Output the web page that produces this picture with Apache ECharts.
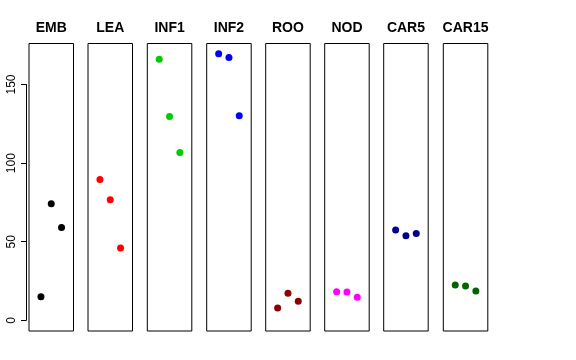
<!DOCTYPE html>
<html><head><meta charset="utf-8">
<script src="https://cdn.jsdelivr.net/npm/echarts@6/dist/echarts.min.js"></script>
<style>html,body{margin:0;padding:0;background:#fff}#c{width:576px;height:360px}</style>
</head><body><div id="c"></div>
<script>
const categories = ['EMB','LEA','INF1','INF2','ROO','NOD','CAR5','CAR15'];
const EMB   = [15, 74.1, 59.1];
const LEA   = [89.6, 76.7, 46.0];
const INF1  = [166.1, 129.7, 106.8];
const INF2  = [169.5, 167.2, 130.1];
const ROO   = [7.8, 17.2, 12.1];
const NOD   = [18.2, 18.0, 14.6];
const CAR5  = [57.4, 53.8, 55.3];
const CAR15 = [22.4, 21.8, 18.6];
const seriesValues = [EMB, LEA, INF1, INF2, ROO, NOD, CAR5, CAR15];
const colors = ['#000000','#FF0000','#00CD00','#0000FF','#8B0000','#FF00FF','#00008B','#006400'];
const yTicks = [0, 50, 100, 150];

const chart = echarts.init(document.getElementById('c'), null, {renderer:'canvas'});
const yMin = -6.8, yMax = 176.1;
const pTop = 43.5, pH = 287.5, pW = 44.5;
const lefts = [29, 88, 147.3, 206.7, 265.7, 324.7, 383.7, 443.3];
const grids = [], xAxes = [], yAxes = [], series = [], titles = [];
categories.forEach((name, i) => {
  grids.push({left: lefts[i], top: pTop, width: pW, height: pH, show: true, borderColor: '#000', borderWidth: 1, backgroundColor: 'transparent'});
  xAxes.push({type:'value', gridIndex:i, min:-0.16, max:4.16, show:false});
  yAxes.push({type:'value', gridIndex:i, min:yMin, max:yMax, show:false});
  series.push({type:'scatter', xAxisIndex:i, yAxisIndex:i, symbol:'circle', symbolSize:7,
    itemStyle:{color:colors[i], opacity:1}, data: seriesValues[i].map((v,j)=>[j+1, v])});
  titles.push({text:name, left: lefts[i] + pW/2, top: 21, textAlign:'center', padding:0,
    textStyle:{fontFamily:'Liberation Sans, Arial, sans-serif', fontWeight:'bold', fontSize:14, color:'#000'}});
});
// shared left y axis (0..150)
const px = pH / (yMax - yMin);
const axTop = pTop + (yMax - yTicks[yTicks.length-1]) * px;
const axH = (yTicks[yTicks.length-1] - yTicks[0]) * px;
grids.push({left: 26, top: axTop, width: 1, height: axH, show:false});
xAxes.push({type:'value', gridIndex:8, show:false, min:0, max:1});
yAxes.push({type:'value', gridIndex:8, min:yTicks[0], max:yTicks[yTicks.length-1], interval:50,
  axisLine:{show:true, lineStyle:{color:'#000', width:1}},
  axisTick:{show:true, length:5, lineStyle:{color:'#000'}},
  splitLine:{show:false},
  axisLabel:{rotate:90, margin:8, color:'#000', fontSize:12, fontFamily:'Liberation Sans, Arial, sans-serif'}});

chart.setOption({animation:false, title:titles, grid:grids, xAxis:xAxes, yAxis:yAxes, series:series});
</script></body></html>
